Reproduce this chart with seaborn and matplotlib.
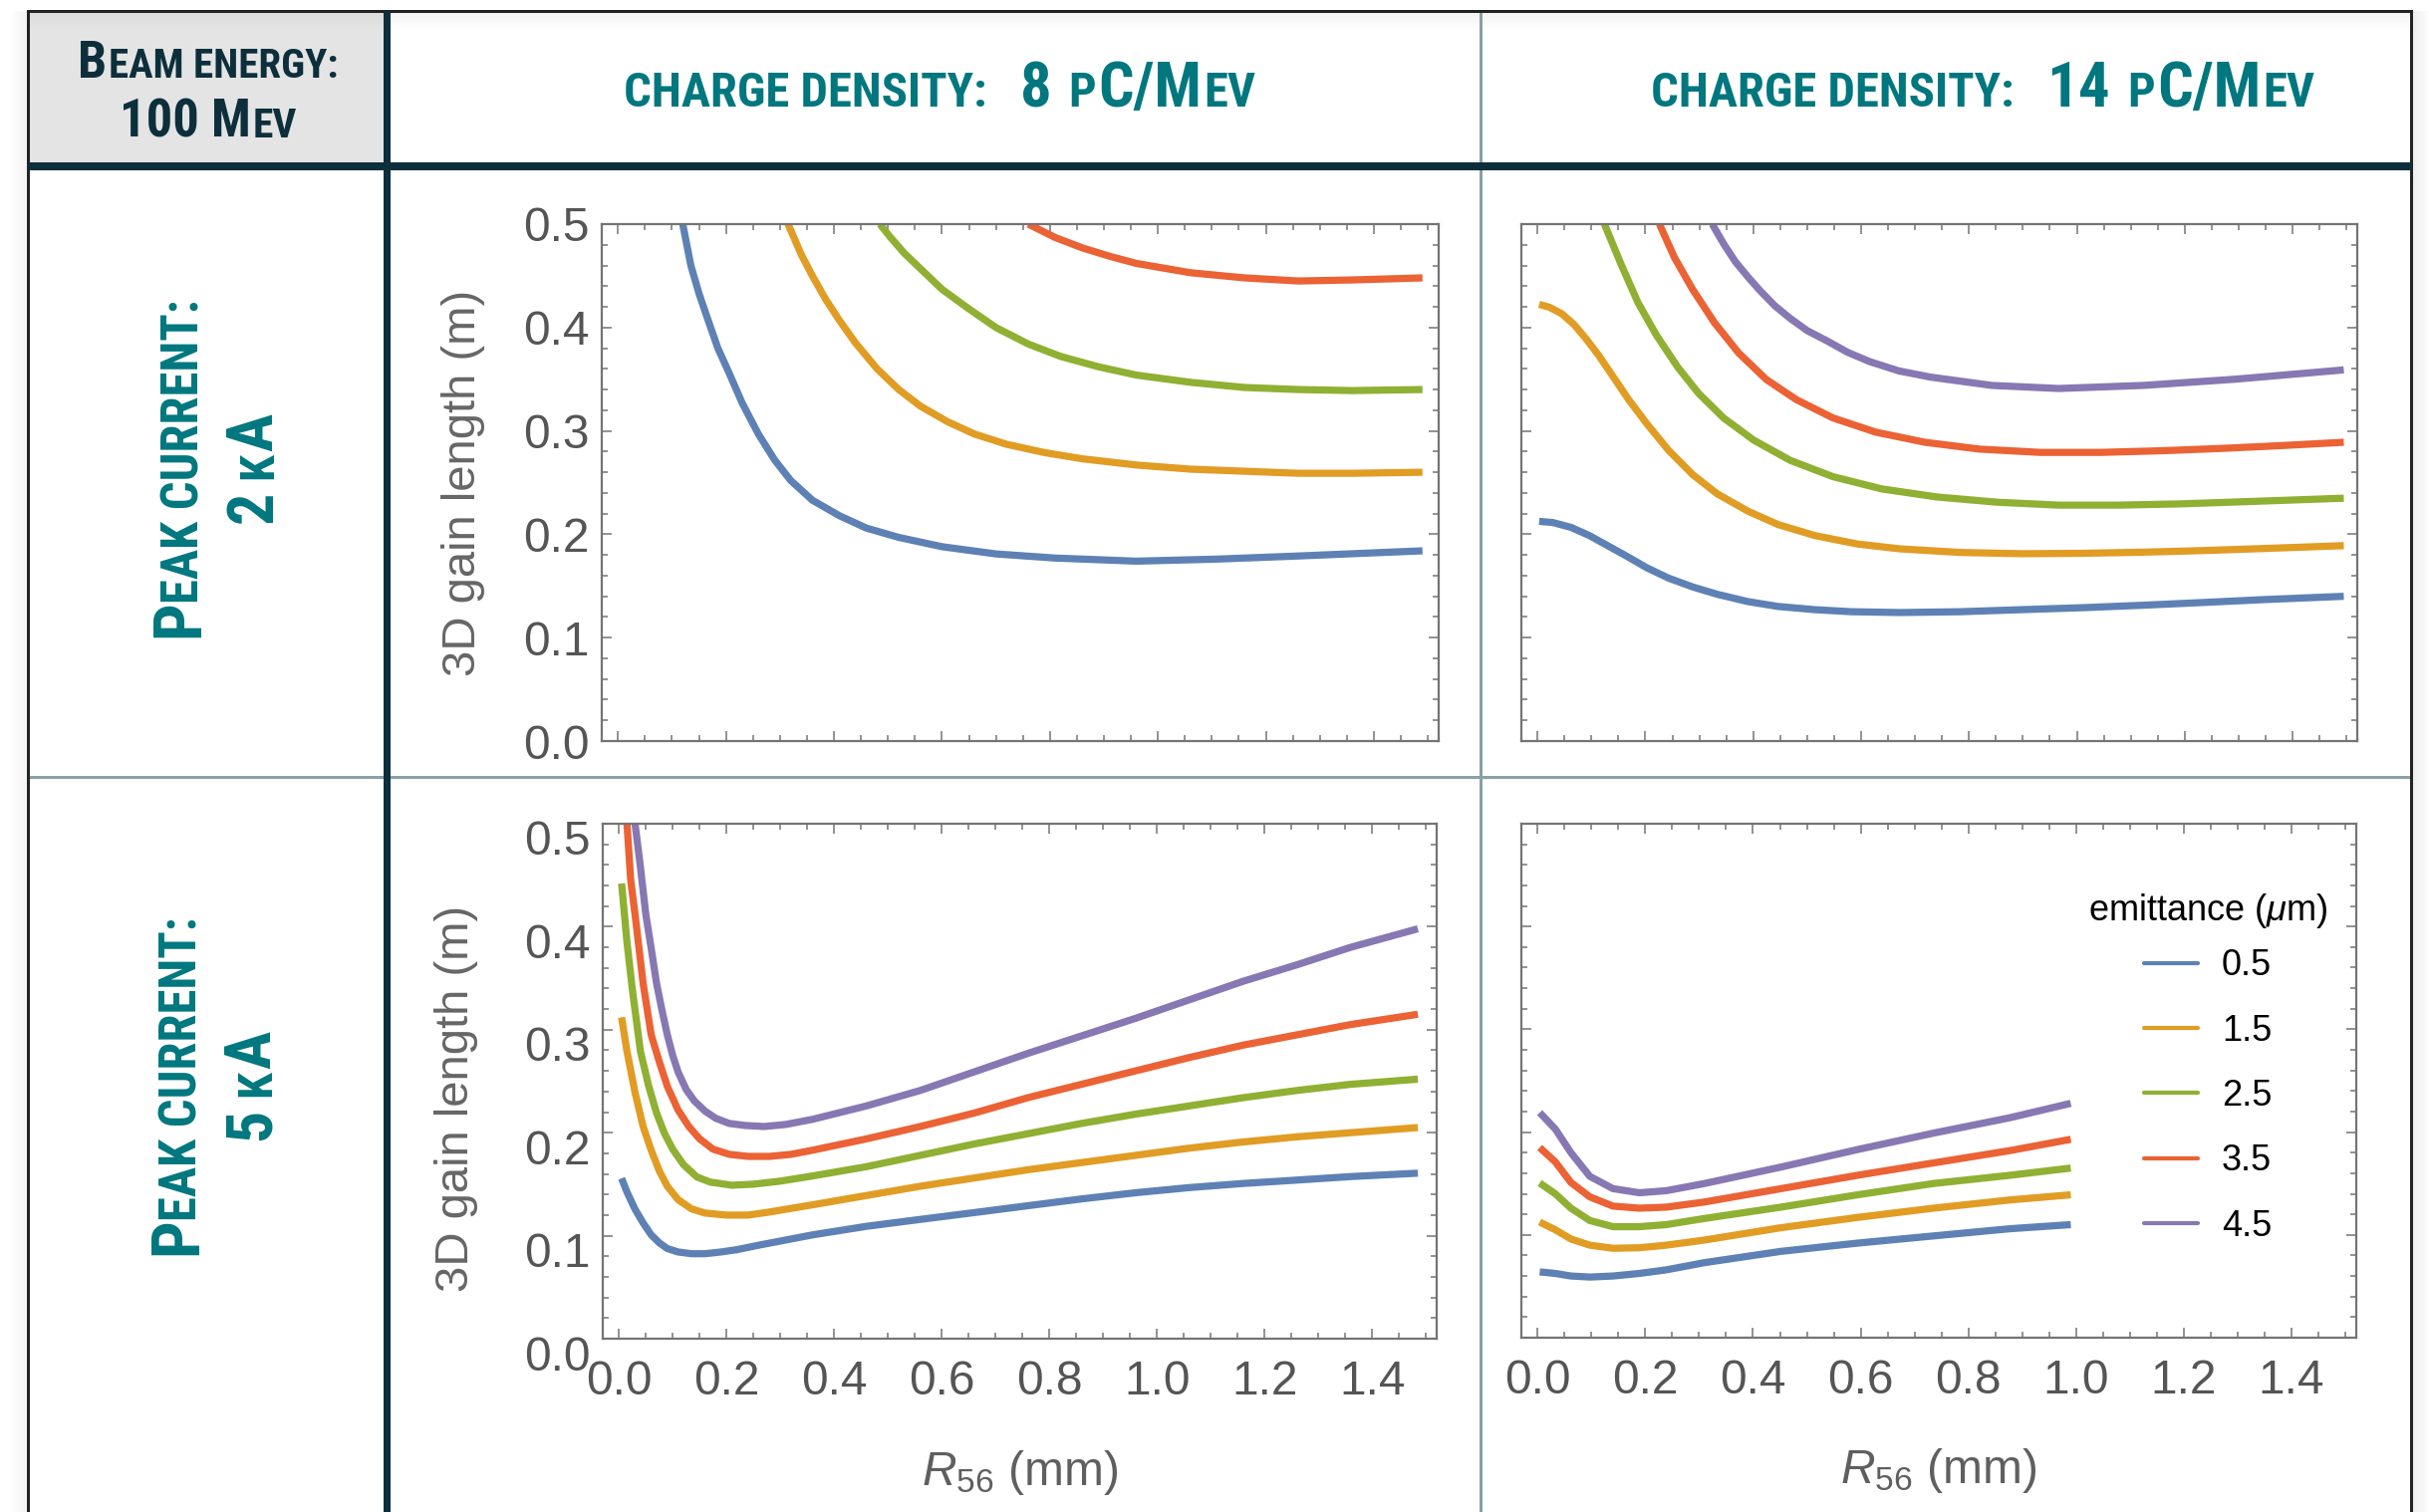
import numpy as np
import pandas as pd
import matplotlib
matplotlib.use("Agg")
import matplotlib.pyplot as plt
import seaborn as sns
from matplotlib import font_manager as fm
from matplotlib.ticker import MultipleLocator, FormatStrFormatter
from matplotlib.transforms import ScaledTranslation
from matplotlib.patches import Rectangle

# ---------------- data ----------------
emittances = ["0.5", "1.5", "2.5", "3.5", "4.5"]
colors = ["#5E81B5", "#E19C24", "#8FB032", "#EB6235", "#8778B3"]

# Panel A: 8 pC/MeV, 2 kA
a_x_05 = [0.12, 0.135, 0.15, 0.165, 0.185, 0.205, 0.23, 0.26, 0.29, 0.32, 0.36, 0.41, 0.46, 0.52, 0.60, 0.70, 0.81, 0.96, 1.11, 1.26, 1.49]
a_y_05 = [0.500, 0.460, 0.433, 0.410, 0.380, 0.357, 0.327, 0.297, 0.272, 0.252, 0.233, 0.218, 0.206, 0.197, 0.188, 0.181, 0.177, 0.174, 0.176, 0.179, 0.184]
a_x_15 = [0.315, 0.34, 0.36, 0.385, 0.41, 0.44, 0.48, 0.52, 0.56, 0.61, 0.66, 0.72, 0.79, 0.86, 0.96, 1.06, 1.16, 1.26, 1.36, 1.49]
a_y_15 = [0.50, 0.47, 0.45, 0.427, 0.407, 0.385, 0.36, 0.34, 0.324, 0.309, 0.297, 0.287, 0.279, 0.273, 0.267, 0.263, 0.261, 0.259, 0.259, 0.260]
a_x_25 = [0.485, 0.505, 0.53, 0.56, 0.60, 0.65, 0.70, 0.76, 0.82, 0.89, 0.96, 1.06, 1.16, 1.26, 1.36, 1.49]
a_y_25 = [0.50, 0.487, 0.472, 0.457, 0.437, 0.418, 0.400, 0.384, 0.372, 0.362, 0.354, 0.347, 0.342, 0.340, 0.339, 0.340]
a_x_35 = [0.76, 0.81, 0.86, 0.91, 0.96, 1.06, 1.16, 1.26, 1.36, 1.49]
a_y_35 = [0.50, 0.487, 0.477, 0.469, 0.462, 0.453, 0.448, 0.445, 0.446, 0.448]

# Panel B: 14 pC/MeV, 2 kA
b_x_05 = [0.003, 0.028, 0.062, 0.096, 0.130, 0.164, 0.203, 0.243, 0.288, 0.333, 0.390, 0.446, 0.514, 0.582, 0.672, 0.785, 0.898, 1.011, 1.124, 1.237, 1.350, 1.495]
b_y_05 = [0.2125, 0.2114, 0.2067, 0.1988, 0.1890, 0.1792, 0.1675, 0.1576, 0.1490, 0.1420, 0.1349, 0.1302, 0.1271, 0.1251, 0.1243, 0.1251, 0.1271, 0.1290, 0.1314, 0.1341, 0.1369, 0.1400]
b_x_15 = [0.003, 0.022, 0.045, 0.068, 0.090, 0.113, 0.141, 0.169, 0.203, 0.243, 0.288, 0.333, 0.390, 0.446, 0.514, 0.593, 0.672, 0.785, 0.898, 1.011, 1.124, 1.237, 1.350, 1.495]
b_y_15 = [0.4224, 0.4196, 0.4133, 0.4027, 0.3890, 0.3733, 0.3518, 0.3302, 0.3067, 0.2812, 0.2576, 0.2392, 0.2224, 0.2094, 0.1988, 0.1906, 0.1859, 0.1824, 0.1812, 0.1816, 0.1827, 0.1843, 0.1863, 0.1890]
b_x_25 = [0.124, 0.153, 0.186, 0.220, 0.260, 0.299, 0.345, 0.401, 0.469, 0.548, 0.638, 0.740, 0.853, 0.966, 1.079, 1.192, 1.305, 1.495]
b_y_25 = [0.500, 0.4635, 0.4243, 0.3929, 0.3616, 0.3361, 0.3125, 0.2910, 0.2714, 0.2557, 0.2439, 0.2361, 0.2310, 0.2282, 0.2282, 0.2294, 0.2314, 0.2349]
b_x_35 = [0.226, 0.254, 0.288, 0.328, 0.373, 0.424, 0.480, 0.548, 0.627, 0.718, 0.819, 0.932, 1.045, 1.158, 1.271, 1.384, 1.495]
b_y_35 = [0.500, 0.4675, 0.4365, 0.4047, 0.3753, 0.3498, 0.3302, 0.3125, 0.2988, 0.2890, 0.2824, 0.2792, 0.2792, 0.2808, 0.2831, 0.2859, 0.2890]
b_x_45 = [0.324, 0.345, 0.367, 0.39, 0.412, 0.44, 0.469, 0.50, 0.537, 0.575, 0.616, 0.67, 0.729, 0.842, 0.966, 1.124, 1.294, 1.495]
b_y_45 = [0.500, 0.481, 0.4635, 0.449, 0.436, 0.421, 0.4086, 0.397, 0.387, 0.376, 0.367, 0.358, 0.352, 0.344, 0.341, 0.344, 0.350, 0.359]

# Panel C: 8 pC/MeV, 5 kA
c_x_05 = [0.005, 0.015, 0.03, 0.045, 0.06, 0.075, 0.09, 0.11, 0.135, 0.16, 0.19, 0.22, 0.26, 0.31, 0.36, 0.46, 0.56, 0.66, 0.76, 0.86, 0.96, 1.06, 1.16, 1.26, 1.36, 1.485]
c_y_05 = [0.1557, 0.1424, 0.1257, 0.1124, 0.1008, 0.0931, 0.0875, 0.0842, 0.0825, 0.0825, 0.0842, 0.0865, 0.0908, 0.0958, 0.1008, 0.1091, 0.1158, 0.1224, 0.1291, 0.1357, 0.1417, 0.1467, 0.1507, 0.1540, 0.1574, 0.1607]
c_x_15 = [0.005, 0.015, 0.03, 0.045, 0.06, 0.075, 0.09, 0.11, 0.135, 0.16, 0.2, 0.24, 0.28, 0.36, 0.46, 0.56, 0.66, 0.76, 0.86, 0.96, 1.06, 1.16, 1.26, 1.36, 1.485]
c_y_15 = [0.312, 0.279, 0.239, 0.206, 0.183, 0.163, 0.148, 0.135, 0.126, 0.122, 0.120, 0.120, 0.123, 0.130, 0.139, 0.148, 0.156, 0.164, 0.171, 0.178, 0.185, 0.191, 0.196, 0.200, 0.205]
c_x_25 = [0.005, 0.015, 0.025, 0.04, 0.055, 0.07, 0.085, 0.10, 0.12, 0.145, 0.17, 0.21, 0.25, 0.30, 0.36, 0.46, 0.56, 0.66, 0.76, 0.86, 0.96, 1.06, 1.16, 1.26, 1.36, 1.485]
c_y_25 = [0.442, 0.385, 0.339, 0.279, 0.246, 0.219, 0.199, 0.184, 0.169, 0.157, 0.152, 0.149, 0.150, 0.153, 0.158, 0.167, 0.178, 0.189, 0.199, 0.209, 0.218, 0.226, 0.234, 0.241, 0.247, 0.252]
c_x_35 = [0.015, 0.022, 0.03, 0.045, 0.06, 0.075, 0.09, 0.11, 0.13, 0.15, 0.175, 0.205, 0.24, 0.28, 0.32, 0.36, 0.46, 0.56, 0.66, 0.76, 0.86, 0.96, 1.06, 1.16, 1.26, 1.36, 1.485]
c_y_35 = [0.500, 0.445, 0.412, 0.345, 0.295, 0.269, 0.245, 0.222, 0.206, 0.194, 0.184, 0.179, 0.177, 0.177, 0.179, 0.183, 0.194, 0.206, 0.219, 0.234, 0.247, 0.260, 0.273, 0.285, 0.295, 0.305, 0.315]
c_x_45 = [0.03, 0.04, 0.05, 0.06, 0.07, 0.08, 0.09, 0.10, 0.11, 0.125, 0.14, 0.16, 0.18, 0.205, 0.235, 0.27, 0.31, 0.36, 0.46, 0.56, 0.66, 0.76, 0.86, 0.96, 1.06, 1.16, 1.26, 1.36, 1.485]
c_y_45 = [0.500, 0.458, 0.412, 0.379, 0.345, 0.319, 0.295, 0.275, 0.259, 0.242, 0.231, 0.221, 0.214, 0.209, 0.207, 0.206, 0.208, 0.213, 0.226, 0.241, 0.259, 0.277, 0.294, 0.311, 0.329, 0.347, 0.363, 0.380, 0.398]

# Panel D: 14 pC/MeV, 5 kA
d_x = [0.004, 0.033, 0.062, 0.097, 0.14, 0.189, 0.239, 0.31, 0.452, 0.594, 0.735, 0.877, 0.99]
d_y_05 = [0.064, 0.0625, 0.060, 0.059, 0.060, 0.0625, 0.066, 0.073, 0.084, 0.092, 0.099, 0.106, 0.110]
d_y_15 = [0.1125, 0.105, 0.096, 0.090, 0.087, 0.0875, 0.090, 0.095, 0.107, 0.117, 0.126, 0.134, 0.139]
d_y_25 = [0.1505, 0.140, 0.126, 0.114, 0.108, 0.108, 0.110, 0.116, 0.127, 0.139, 0.150, 0.158, 0.165]
d_y_35 = [0.185, 0.171, 0.151, 0.137, 0.128, 0.126, 0.127, 0.132, 0.145, 0.158, 0.170, 0.182, 0.193]
d_y_45 = [0.219, 0.203, 0.180, 0.157, 0.145, 0.141, 0.143, 0.150, 0.166, 0.183, 0.199, 0.214, 0.228]

x_ticks_major = 0.2
y_ticks_major = 0.1

# ---------------- style ----------------
W, H, DPI = 2438, 1518, 100
sns.set_theme(style="white")
plt.rcParams["font.family"] = ["Liberation Sans", "DejaVu Sans"]
plt.rcParams["mathtext.fontset"] = "custom"
plt.rcParams["mathtext.rm"] = "Liberation Sans"
plt.rcParams["mathtext.it"] = "Liberation Sans:italic"
plt.rcParams["mathtext.default"] = "it"

names = {f.name for f in fm.fontManager.ttflist}
HFONT = None
for cand in ["Liberation Sans Narrow", "Roboto Condensed", "Open Sans Condensed", "Noto Sans Condensed"]:
    if cand in names:
        HFONT = cand
        break
if HFONT is None:
    HFONT = "Liberation Sans"

TEAL = "#00777e"
NAVY = "#0c2f3b"
FRAME = "#747474"
TICKTXT = "#555555"

fig = plt.figure(figsize=(W / DPI, H / DPI), dpi=DPI, facecolor="white")


def px_axes(l, t, r, b):
    return fig.add_axes([l / W, 1 - b / H, (r - l) / W, (b - t) / H])


def rect(x0, y0, x1, y1, color, alpha=1.0, z=5):
    fig.add_artist(Rectangle((x0 / W, 1 - y1 / H), (x1 - x0) / W, (y1 - y0) / H,
                             transform=fig.transFigure, facecolor=color, edgecolor="none",
                             alpha=alpha, zorder=z))


# ---------------- table decoration ----------------
rect(28, 11, 388, 163, "#e4e4e4", z=1)
for i in range(8):  # soft shadow below top border
    rect(30, 13 + i * 2, 2420, 15 + i * 2, "#9a9a9a", alpha=0.10 * (1 - i / 8), z=2)
for i in range(10):  # outer shadows
    rect(27 - (i + 1) * 1.6, 11, 27 - i * 1.6, H, "#8a8a8a", alpha=0.09 * (1 - i / 10), z=2)
    rect(2422 + i * 1.6, 11, 2422 + (i + 1) * 1.6, H, "#8a8a8a", alpha=0.14 * (1 - i / 10), z=2)
rect(27, 10, 2422, 13, "#222222", z=6)
rect(27, 10, 30, H, "#222222", z=6)
rect(2419, 10, 2422, H, "#222222", z=6)
rect(28, 163, 2421, 171, NAVY, z=6)
rect(385, 11, 392, H, NAVY, z=7)
rect(1485, 11, 1488, H, "#8a9ea5", z=5)
rect(30, 779, 2419, 782, "#8aa0a7", z=5)

# ---------------- axes ----------------
axA = px_axes(604, 225, 1444, 744)
axB = px_axes(1527, 225, 2366, 744)
axC = px_axes(605, 827, 1442, 1344)
axD = px_axes(1527, 827, 2365, 1343)

pal = dict(zip(emittances, colors))


def make_df(series):
    frames = []
    for em, xs, ys in series:
        frames.append(pd.DataFrame({"R56": xs, "L": ys, "emittance": em}))
    return pd.concat(frames, ignore_index=True)


dfA = make_df([("0.5", a_x_05, a_y_05), ("1.5", a_x_15, a_y_15),
               ("2.5", a_x_25, a_y_25), ("3.5", a_x_35, a_y_35)])
dfB = make_df([("0.5", b_x_05, b_y_05), ("1.5", b_x_15, b_y_15), ("2.5", b_x_25, b_y_25),
               ("3.5", b_x_35, b_y_35), ("4.5", b_x_45, b_y_45)])
dfC = make_df([("0.5", c_x_05, c_y_05), ("1.5", c_x_15, c_y_15), ("2.5", c_x_25, c_y_25),
               ("3.5", c_x_35, c_y_35), ("4.5", c_x_45, c_y_45)])
dfD = make_df([("0.5", d_x, d_y_05), ("1.5", d_x, d_y_15), ("2.5", d_x, d_y_25),
               ("3.5", d_x, d_y_35), ("4.5", d_x, d_y_45)])

for ax, df, leg in [(axA, dfA, False), (axB, dfB, False), (axC, dfC, False), (axD, dfD, "brief")]:
    order = [e for e in emittances if e in set(df["emittance"])]
    sns.lineplot(data=df, x="R56", y="L", hue="emittance", hue_order=order, palette=pal,
                 estimator=None, sort=False, linewidth=5.2, ax=ax, legend=leg)
    for ln in ax.get_lines():
        ln.set_solid_capstyle("butt")
        ln.set_solid_joinstyle("round")
    ax.set_xlim(-0.03, 1.52)
    ax.set_ylim(0, 0.5)
    ax.xaxis.set_major_locator(MultipleLocator(x_ticks_major))
    ax.xaxis.set_minor_locator(MultipleLocator(0.05))
    ax.yaxis.set_major_locator(MultipleLocator(y_ticks_major))
    ax.yaxis.set_minor_locator(MultipleLocator(0.02))
    ax.xaxis.set_major_formatter(FormatStrFormatter("%.1f"))
    ax.yaxis.set_major_formatter(FormatStrFormatter("%.1f"))
    ax.tick_params(which="both", direction="in", top=True, right=True, bottom=True, left=True,
                   color=FRAME, width=1.1, labelsize=34.5, labelcolor=TICKTXT)
    ax.tick_params(axis="x", which="major", pad=15)
    ax.tick_params(axis="y", which="major", pad=9)
    ax.tick_params(which="major", length=7)
    ax.tick_params(which="minor", length=4)
    for s in ax.spines.values():
        s.set_color(FRAME)
        s.set_linewidth(1.6)
        s.set_visible(True)
    ax.set_xlabel("")
    ax.set_ylabel("")

axA.tick_params(labelbottom=False)
axB.tick_params(labelbottom=False, labelleft=False)
axD.tick_params(labelleft=False)

for ax, xc, yc in [(axA, -0.139, 0.5), (axC, -0.149, 0.467)]:
    ax.set_ylabel("3D gain length (m)", fontsize=34, color="#666666")
    ax.yaxis.set_label_coords(xc, yc)
for ax in (axC, axD):
    ax.set_xlabel(r"$R_{\mathrm{56}}$ (mm)", fontsize=34.5, color="#5f5f5f")
    ax.xaxis.set_label_coords(0.5, -0.212)

for lbl in axC.get_yticklabels():
    lbl.set_transform(lbl.get_transform() + ScaledTranslation(0, -0.14, fig.dpi_scale_trans))

sns.move_legend(axD, "center", bbox_to_anchor=(2216 / W, 1 - 1072 / H),
                bbox_transform=fig.transFigure, frameon=False,
                title=r"emittance ($\mu$m)", fontsize=26, title_fontsize=26,
                handlelength=1.5, handletextpad=0.67, labelspacing=0.84, borderpad=0)
leg = axD.get_legend()
leg._legend_box.sep = 0.5 * 26
for h in leg.legend_handles:
    h.set_linewidth(3.0)
for t in leg.get_texts():
    t.set_color("black")
leg.get_title().set_color("black")

# ---------------- header / row labels (small caps emulation) ----------------
renderer = fig.canvas.get_renderer()


def text_width(s, size):
    t = fig.text(0, 0, s, fontsize=size, family=[HFONT, "DejaVu Sans"], weight="bold")
    w = t.get_window_extent(renderer).width
    t.remove()
    return w


def draw_parts(cx, cy, parts, big, small, color, target=None, rotation=0):
    sizes = {"L": big, "S": small}
    widths = [text_width(s, sizes[k]) for s, k, g in parts]
    gaps = [g for _, _, g in parts]
    total = sum(widths) + sum(gaps)
    if target:
        sc = min(max(target / total, 0.8), 1.2)
        sizes = {k: v * sc for k, v in sizes.items()}
        gaps = [g * sc for g in gaps]
        widths = [text_width(s, sizes[k]) for s, k, g in parts]
        total = sum(widths) + sum(gaps)
    pos = -total / 2
    for (s, k, _), w, g in zip(parts, widths, gaps):
        pos += g
        if rotation == 0:
            x, y = cx + pos, cy
        else:
            x, y = cx, cy - pos
        fig.text(x / W, 1 - y / H, s, fontsize=sizes[k], family=[HFONT, "DejaVu Sans"],
                 weight="bold", color=color, ha="left", va="baseline",
                 rotation=rotation, rotation_mode="anchor", zorder=10)
        pos += w


draw_parts(209, 78, [("B", "L", 0), ("EAM ENERGY:", "S", 2)], 38, 30, NAVY, target=261)
draw_parts(209, 138, [("100 M", "L", 0), ("EV", "S", 2)], 38, 30, NAVY, target=178)
draw_parts(943, 107, [("CHARGE DENSITY:", "S", 0), ("8", "L", 33), ("P", "S", 17),
                      ("C/M", "L", 2), ("EV", "S", 2)], 45, 35, TEAL, target=634)
draw_parts(1990, 107, [("CHARGE DENSITY:", "S", 0), ("14", "L", 33), ("P", "S", 17),
                       ("C/M", "L", 2), ("EV", "S", 2)], 45, 35, TEAL, target=667)
draw_parts(199, 470, [("P", "L", 0), ("EAK CURRENT:", "S", -4)], 46, 35, TEAL,
           target=339, rotation=90)
draw_parts(273, 470, [("2", "L", 0), ("K", "S", 12), ("A", "L", 1)], 46, 35, TEAL, rotation=90)
draw_parts(197, 1090, [("P", "L", 0), ("EAK CURRENT:", "S", -4)], 46, 35, TEAL,
           target=339, rotation=90)
draw_parts(271, 1090, [("5", "L", 0), ("K", "S", 12), ("A", "L", 1)], 46, 35, TEAL, rotation=90)

fig.savefig("out.png", dpi=DPI, facecolor="white")
